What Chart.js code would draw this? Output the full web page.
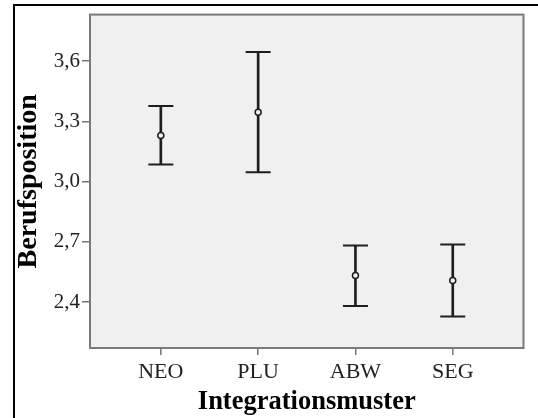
<!DOCTYPE html>
<html>
<head>
<meta charset="utf-8">
<script src="https://cdn.jsdelivr.net/npm/chart.js@4.4.0/dist/chart.umd.min.js"></script>
<style>
    html, body { margin: 0; padding: 0; background: #fff; overflow: hidden; }
    #wrap { position: relative; width: 538px; height: 418px; }
    #frame { position: absolute; left: 13px; top: 4px; width: 600px; height: 500px; border: 2px solid #000; pointer-events: none; }
    canvas { position: absolute; left: 0; top: 0; }
</style>
</head>
<body>
<div id="wrap">
    <canvas id="myChart" width="538" height="418"></canvas>
    <div id="frame"></div>
</div>
<script>
// values (mean with lower / upper end of the error bar)
const categories = ['NEO', 'PLU', 'ABW', 'SEG'];
const meanValues = [3.230, 3.346, 2.532, 2.507];
const lowerValues = [3.085, 3.047, 2.380, 2.328];
const upperValues = [3.377, 3.646, 2.682, 2.687];
const yTicks = [2.4, 2.7, 3.0, 3.3, 3.6];

const serif = 'Liberation Serif, Times New Roman, serif';
const inkColor = '#1e1e1e';

//grey plot area with its frame
const plotBg = {
    id: 'plotBg',
    beforeDraw(chart) {
        const {ctx, chartArea: a} = chart;
        ctx.save();
        ctx.fillStyle = '#f0f0f0';
        ctx.fillRect(a.left, a.top, a.width, a.height);
        ctx.restore();
    },
    afterDraw(chart) {
        const {ctx, chartArea: a} = chart;
        ctx.save();
        ctx.strokeStyle = '#7a7a7a';
        ctx.lineWidth = 2;
        ctx.strokeRect(a.left, a.top, a.width, a.height);
        ctx.restore();
    }
};

const ctx = document.getElementById('myChart');

new Chart(ctx, {
    type: 'bar',
    data: {
        datasets: [
            {
                type: 'line',
                label: 'mean',
                data: categories.map((c, i) => ({x: i + 1, y: meanValues[i]})),
                showLine: false,
                pointStyle: 'circle',
                pointRadius: 3,
                pointBorderWidth: 1.5,
                pointBackgroundColor: '#f0f0f0',
                pointBorderColor: inkColor,
                order: 0
            },
            {
                type: 'line',
                label: 'upper',
                data: categories.map((c, i) => ({x: i + 1, y: upperValues[i]})),
                showLine: false,
                pointStyle: 'line',
                pointRadius: 12.5,
                pointBorderWidth: 2,
                pointBorderColor: inkColor,
                order: 1
            },
            {
                type: 'line',
                label: 'lower',
                data: categories.map((c, i) => ({x: i + 1, y: lowerValues[i]})),
                showLine: false,
                pointStyle: 'line',
                pointRadius: 12.5,
                pointBorderWidth: 2,
                pointBorderColor: inkColor,
                order: 1
            },
            {
                label: 'range',
                data: categories.map((c, i) => ({x: i + 1, y: [lowerValues[i], upperValues[i]]})),
                backgroundColor: inkColor,
                borderWidth: 0,
                barThickness: 2,
                order: 3
            }
        ]
    },
    options: {
        responsive: false,
        animation: false,
        devicePixelRatio: 1,
        layout: {padding: {left: 0, right: 2, top: 12, bottom: 0}},
        plugins: {legend: {display: false}, tooltip: {enabled: false}},
        scales: {
            x: {
                type: 'linear',
                min: 0.272,
                max: 4.727,
                offset: false,
                afterBuildTicks: ax => { ax.ticks = categories.map((c, i) => ({value: i + 1})); },
                afterFit: ax => { ax.height = 70; },
                ticks: {
                    callback: v => categories[Math.round(v) - 1],
                    font: {family: serif, size: 22},
                    color: '#222',
                    padding: 4,
                    autoSkip: false,
                    maxRotation: 0
                },
                grid: {display: true, offset: false, drawOnChartArea: false, tickLength: 7, color: '#777', lineWidth: 1.5},
                border: {display: false},
                title: {
                    display: true,
                    text: 'Integrationsmuster',
                    font: {family: serif, size: 26.5, weight: 'bold'},
                    color: '#000',
                    padding: {top: 0, bottom: 0}
                }
            },
            y: {
                type: 'linear',
                min: 2.171,
                max: 3.832,
                afterBuildTicks: ax => { ax.ticks = yTicks.map(v => ({value: v})); },
                afterFit: ax => { ax.width = 90; },
                ticks: {
                    callback: v => v.toFixed(1).replace('.', ','),
                    font: {family: serif, size: 21},
                    color: '#222',
                    padding: 2
                },
                grid: {display: true, drawOnChartArea: false, tickLength: 8, color: '#777', lineWidth: 1.5},
                border: {display: false},
                title: {
                    display: true,
                    text: 'Berufsposition',
                    font: {family: serif, size: 28, weight: 'bold'},
                    color: '#000',
                    padding: {top: 12, bottom: 0}
                }
            }
        }
    },
    plugins: [plotBg]
});
</script>
</body>
</html>
